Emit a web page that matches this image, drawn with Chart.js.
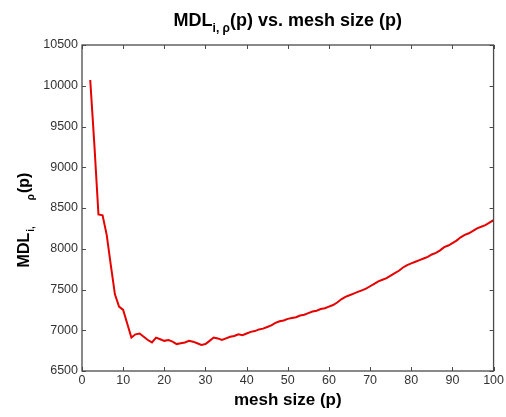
<!DOCTYPE html>
<html>
<head>
<meta charset="utf-8">
<script src="https://cdn.jsdelivr.net/npm/chart.js@4"></script>
<style>
  html, body { margin: 0; padding: 0; background: #fff; }
  #wrap { width: 506px; height: 417px; }
</style>
</head>
<body>
<div id="wrap"><canvas id="mdlChart" width="506" height="417"></canvas></div>
<script>
// mesh size p and the MDL value
const meshSize = [2, 3, 4, 5, 6, 7, 8, 9, 10, 11, 12, 13, 14, 15, 16, 17, 18, 19, 20, 21,
    22, 23, 24, 25, 26, 27, 28, 29, 30, 31, 32, 33, 34, 35, 36, 37, 38, 39, 40, 41,
    42, 43, 44, 45, 46, 47, 48, 49, 50, 51, 52, 53, 54, 55, 56, 57, 58, 59, 60, 61,
    62, 63, 64, 65, 66, 67, 68, 69, 70, 71, 72, 73, 74, 75, 76, 77, 78, 79, 80, 81,
    82, 83, 84, 85, 86, 87, 88, 89, 90, 91, 92, 93, 94, 95, 96, 97, 98, 99, 100];
const mdlValues = [10070, 9280, 8420, 8410, 8170, 7800, 7440, 7290, 7250, 7080,
    6910, 6950, 6960, 6920, 6880, 6850, 6910, 6890, 6870, 6880,
    6860, 6830, 6840, 6850, 6870, 6860, 6840, 6820, 6830, 6870,
    6910, 6900, 6880, 6900, 6920, 6930, 6950, 6940, 6960, 6980,
    6990, 7010, 7020, 7040, 7060, 7090, 7110, 7120, 7140, 7150,
    7160, 7180, 7190, 7210, 7230, 7240, 7260, 7270, 7290, 7310,
    7340, 7380, 7410, 7430, 7450, 7470, 7490, 7510, 7540, 7570,
    7600, 7620, 7640, 7670, 7700, 7730, 7770, 7800, 7820, 7840,
    7860, 7880, 7900, 7930, 7950, 7980, 8020, 8040, 8070, 8100,
    8140, 8170, 8190, 8220, 8250, 8270, 8290, 8320, 8350];

const FONT = '"Liberation Sans", Arial, Helvetica, sans-serif';

// pieces: [text, size, dy, extra gap after]; x is the centre of the whole run
function drawPieces(ctx, pieces, x, y) {
    let w = 0;
    pieces.forEach(p => {
        ctx.font = 'bold ' + p[1] + 'px ' + FONT;
        w += ctx.measureText(p[0]).width + (p[3] || 0);
    });
    let cx = x - w / 2;
    pieces.forEach(p => {
        ctx.font = 'bold ' + p[1] + 'px ' + FONT;
        ctx.fillText(p[0], cx, y + p[2]);
        cx += ctx.measureText(p[0]).width + (p[3] || 0);
    });
}

const matlabFrame = {
    id: 'matlabFrame',
    afterDraw(chart) {
        const ctx = chart.ctx;
        const a = chart.chartArea;
        const xs = chart.scales.x, ys = chart.scales.y;
        ctx.save();
        ctx.strokeStyle = '#4a4a4a';
        ctx.lineWidth = 1.3;
        ctx.strokeRect(a.left, a.top, a.right - a.left, a.bottom - a.top);
        ctx.lineWidth = 1;
        ctx.beginPath();
        xs.ticks.forEach(t => {
            const px = Math.round(xs.getPixelForValue(t.value)) + 0.5;
            ctx.moveTo(px, a.bottom); ctx.lineTo(px, a.bottom - 4);
            ctx.moveTo(px, a.top); ctx.lineTo(px, a.top + 4);
        });
        ys.ticks.forEach(t => {
            const py = Math.round(ys.getPixelForValue(t.value)) + 0.5;
            ctx.moveTo(a.left, py); ctx.lineTo(a.left + 4, py);
            ctx.moveTo(a.right, py); ctx.lineTo(a.right - 4, py);
        });
        ctx.stroke();

        ctx.fillStyle = '#000';
        ctx.textBaseline = 'alphabetic';
        ctx.textAlign = 'left';
        // title
        drawPieces(ctx, [['MDL', 18, 0], ['i, \u03c1', 12, 6], ['(p) vs. mesh size (p)', 18, 0]],
            (a.left + a.right) / 2, 26);
        // x label
        drawPieces(ctx, [['mesh size (p)', 17, 0]], (a.left + a.right) / 2, 405);
        // y label, rotated
        ctx.translate(29, 220);
        ctx.rotate(-Math.PI / 2);
        drawPieces(ctx, [['MDL', 16, 0, 1], ['i,', 10, 5, 26], ['\u03c1', 10, 5, 1], ['(p)', 16, 0]], 0, 0);
        ctx.restore();
    }
};

new Chart(document.getElementById('mdlChart'), {
    type: 'line',
    data: {
        datasets: [{
            data: meshSize.map((p, i) => ({ x: p, y: mdlValues[i] })),
            borderColor: '#e60000',
            borderWidth: 2,
            pointRadius: 0,
            tension: 0,
            fill: false
        }]
    },
    options: {
        responsive: false,
        animation: false,
        devicePixelRatio: 1,
        layout: { padding: { left: 0, right: 11, top: 45, bottom: 0 } },
        plugins: { legend: { display: false }, tooltip: { enabled: false } },
        scales: {
            x: {
                type: 'linear',
                min: 0, max: 100,
                grid: { display: false, drawTicks: false },
                border: { display: false },
                ticks: {
                    stepSize: 10, padding: 2, maxRotation: 0,
                    color: '#333', font: { family: FONT, size: 12.5 },
                    callback: v => String(v)
                },
                afterFit: s => { s.height = 46; }
            },
            y: {
                min: 6500, max: 10500,
                grid: { display: false, drawTicks: false },
                border: { display: false },
                ticks: {
                    stepSize: 500, padding: 4,
                    color: '#333', font: { family: FONT, size: 12.5 },
                    callback: v => String(v)
                },
                afterFit: s => { s.width = 82; }
            }
        }
    },
    plugins: [matlabFrame]
});
</script>
</body>
</html>
